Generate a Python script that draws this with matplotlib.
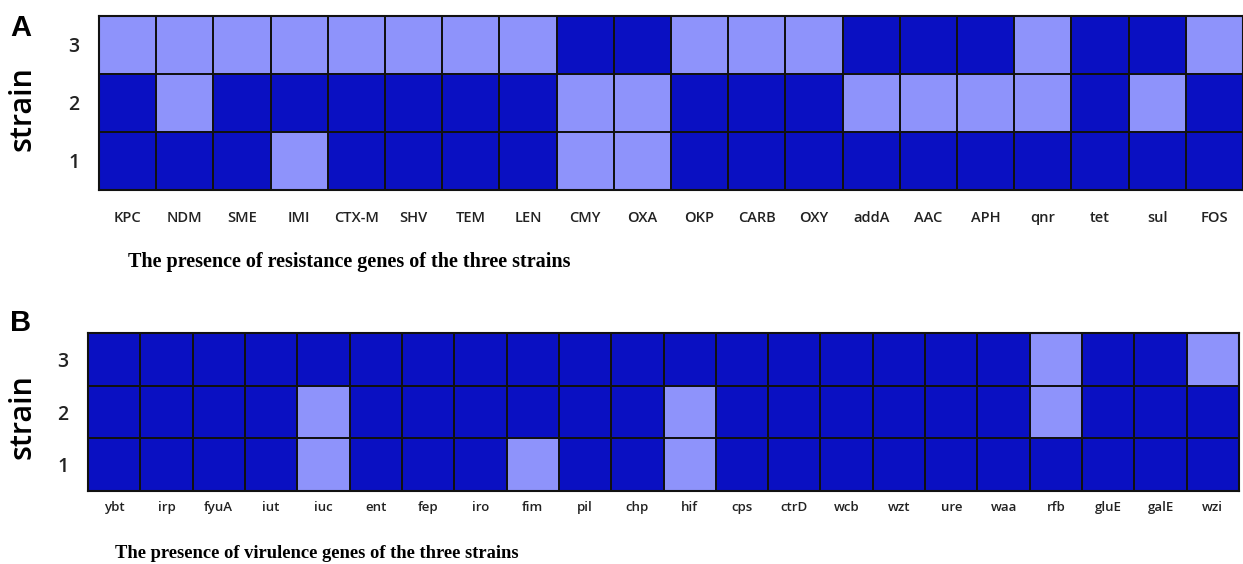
import numpy as np
import matplotlib
matplotlib.use('Agg')
import matplotlib.pyplot as plt
from matplotlib.colors import ListedColormap

# 1 = gene detected (light cell), 0 = not detected (dark cell)
strains = ['1', '2', '3']

resistance_genes = ['KPC', 'NDM', 'SME', 'IMI', 'CTX-M', 'SHV', 'TEM', 'LEN', 'CMY', 'OXA',
                    'OKP', 'CARB', 'OXY', 'addA', 'AAC', 'APH', 'qnr', 'tet', 'sul', 'FOS']
resistance_s1 = [0, 0, 0, 1, 0, 0, 0, 0, 1, 1, 0, 0, 0, 0, 0, 0, 0, 0, 0, 0]
resistance_s2 = [0, 1, 0, 0, 0, 0, 0, 0, 1, 1, 0, 0, 0, 1, 1, 1, 1, 0, 1, 0]
resistance_s3 = [1, 1, 1, 1, 1, 1, 1, 1, 0, 0, 1, 1, 1, 0, 0, 0, 1, 0, 0, 1]

virulence_genes = ['ybt', 'irp', 'fyuA', 'iut', 'iuc', 'ent', 'fep', 'iro', 'fim', 'pil', 'chp',
                   'hif', 'cps', 'ctrD', 'wcb', 'wzt', 'ure', 'waa', 'rfb', 'gluE', 'galE', 'wzi']
virulence_s1 = [0, 0, 0, 0, 1, 0, 0, 0, 1, 0, 0, 1, 0, 0, 0, 0, 0, 0, 0, 0, 0, 0]
virulence_s2 = [0, 0, 0, 0, 1, 0, 0, 0, 0, 0, 0, 1, 0, 0, 0, 0, 0, 0, 1, 0, 0, 0]
virulence_s3 = [0, 0, 0, 0, 0, 0, 0, 0, 0, 0, 0, 0, 0, 0, 0, 0, 0, 0, 1, 0, 0, 1]

cmap = ListedColormap(['#0a10c2', '#8e93fb'])


def draw_panel(ax, genes, rows, label_size, label_pad):
    data = np.array(rows)
    ax.pcolormesh(data, cmap=cmap, vmin=0, vmax=1, edgecolors='#111111', linewidth=1.3)
    ax.set_xlim(0, len(genes))
    ax.set_ylim(0, len(rows))
    ax.set_xticks(np.arange(len(genes)) + 0.5)
    ax.set_xticklabels(genes, fontsize=label_size, family='Open Sans', fontweight='semibold',
                       color='#222222')
    ax.set_yticks(np.arange(len(rows)) + 0.5)
    ax.set_yticklabels(strains, fontsize=14, family='Open Sans', fontweight='semibold',
                       color='#222222')
    ax.tick_params(axis='x', length=0, pad=label_pad)
    ax.tick_params(axis='y', length=0, pad=14)
    for s in ax.spines.values():
        s.set_linewidth(1.5)
        s.set_color('#111111')


fig = plt.figure(figsize=(12.43, 5.64), dpi=100)

ax_a = fig.add_axes([99 / 1243, 1 - 190 / 564, 1 - 99 / 1243, 174 / 564])
draw_panel(ax_a, resistance_genes, [resistance_s1, resistance_s2, resistance_s3], 10.5, 15)

ax_b = fig.add_axes([88 / 1243, 1 - 491 / 564, 1151 / 1243, 158 / 564])
draw_panel(ax_b, virulence_genes, [virulence_s1, virulence_s2, virulence_s3], 9.5, 7)

fig.text(10 / 1243, 1 - 28 / 564, 'A', fontsize=21, fontweight='bold', family='Liberation Sans', va='center')
fig.text(10 / 1243, 1 - 323 / 564, 'B', fontsize=21, fontweight='bold', family='Liberation Sans', va='center')
fig.text(22 / 1243, 1 - 109 / 564, 'strain', fontsize=22, rotation=90, family='Open Sans',
         fontweight='semibold', ha='center', va='center')
fig.text(22 / 1243, 1 - 417 / 564, 'strain', fontsize=22, rotation=90, family='Open Sans',
         fontweight='semibold', ha='center', va='center')

fig.text(128 / 1243, 1 - 262 / 564, 'The presence of resistance genes of the three strains',
         fontsize=14.5, fontweight='bold', family='Liberation Serif', va='center')
fig.text(115 / 1243, 1 - 554 / 564, 'The presence of virulence genes of the three strains',
         fontsize=13.3, fontweight='bold', family='Liberation Serif', va='center')

fig.savefig('out.png', dpi=100)
